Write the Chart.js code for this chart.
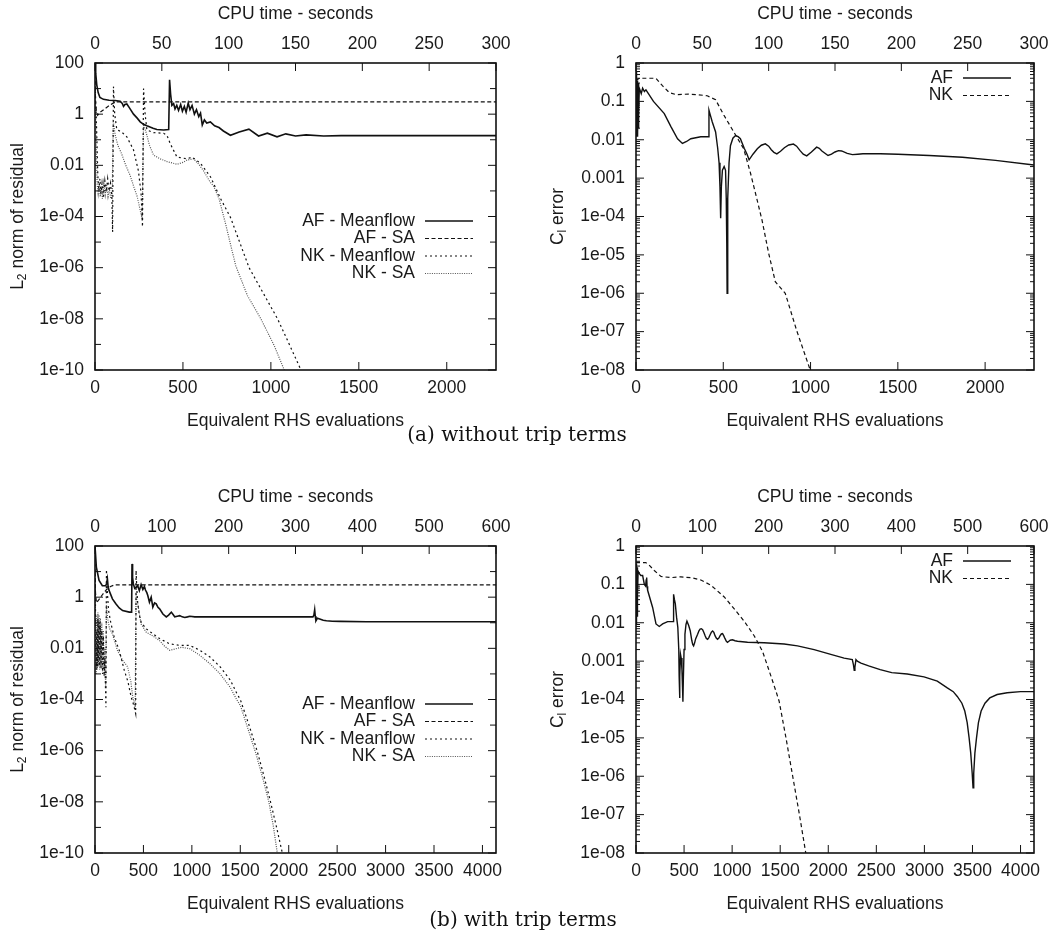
<!DOCTYPE html>
<html>
<head>
<meta charset="utf-8">
<script src="https://cdn.jsdelivr.net/npm/chart.js@4.4.1/dist/chart.umd.min.js"></script>
<style>
  body { margin: 0; background: #fff; width: 1060px; height: 941px; position: relative; overflow: hidden; }
  canvas { position: absolute; }
  .cap { position: absolute; font-family: "DejaVu Serif", "Liberation Serif", serif; font-size: 20px; color: #111;
         white-space: nowrap; transform: translateX(-50%); }
</style>
</head>
<body>
<canvas id="aRes" width="530" height="445" style="left:0;top:0"></canvas>
<canvas id="aCl" width="530" height="445" style="left:530px;top:0"></canvas>
<canvas id="bRes" width="530" height="445" style="left:0;top:483px"></canvas>
<canvas id="bCl" width="530" height="445" style="left:530px;top:483px"></canvas>
<div class="cap" style="left:517px;top:422px">(a) without trip terms</div>
<div class="cap" style="left:523px;top:907px">(b) with trip terms</div>
<script>
// axes
const aRhsMax = 2280, aCpuMax = 300;
const bRhsMax = 4140, bCpuMax = 600;
const aRhsTicks = [0, 500, 1000, 1500, 2000];
const aCpuTicks = [0, 50, 100, 150, 200, 250, 300];
const bRhsTicks = [0, 500, 1000, 1500, 2000, 2500, 3000, 3500, 4000];
const bCpuTicks = [0, 100, 200, 300, 400, 500, 600];
const resTicks = [100, 1, 0.01, 1e-4, 1e-6, 1e-8, 1e-10];
const resOddTicks = [10, 0.1, 1e-3, 1e-5, 1e-7, 1e-9];
const clTicks = [1, 0.1, 0.01, 1e-3, 1e-4, 1e-5, 1e-6, 1e-7, 1e-8];

// (a) without trip terms - residual, [RHS evaluations, L2 norm]
const aResAFMean = [[0,100],[4,40],[10,14],[18,7],[28,4.5],[48,3.8],[80,3.5],[114,3.4],[143,3.2],[155,2.6],[162,2],
  [170,2.4],[181,2.5],[195,1.8],[219,1.0],[240,0.7],[257,0.5],[276,0.4],[295,0.35],[330,0.28],[352,0.25],[390,0.24],
  [419,0.25],[424,22],[430,6],[437,2.2],[447,2.6],[455,1.6],[465,2.2],[475,1.4],[487,2.4],[497,1.3],[508,2.0],
  [518,1.2],[530,2.7],[540,1.5],[552,2.2],[565,1.0],[577,1.5],[590,0.8],[600,1.1],[610,0.38],[622,0.6],[635,0.45],
  [656,0.5],[680,0.35],[705,0.3],[730,0.22],[770,0.15],[820,0.2],[875,0.26],[930,0.14],[980,0.18],[1035,0.13],
  [1085,0.17],[1140,0.14],[1200,0.155],[1300,0.14],[1400,0.145],[1700,0.145],[2000,0.145],[2280,0.145]];
const aResAFSA = [[0,20],[3,3],[8,1.3],[15,0.9],[30,1.2],[60,1.7],[86,2.3],[114,3.0],[2280,3.0]];
const aResNKMean = [[0,30],[4,3],[8,0.5],[12,0.05],[16,0.004],[22,0.001],[28,0.003],[34,0.0008],[40,0.002],
  [48,0.0006],[56,0.0025],[64,0.0009],[72,0.003],[80,0.001],[88,0.002],[96,0.0006],[100,2.5e-5],[105,12],[112,1],
  [124,0.25],[152,0.2],[181,0.13],[219,0.04],[247,0.006],[262,0.0008],[270,4e-5],[276,10],[285,1],[295,0.24],
  [333,0.19],[390,0.18],[409,0.15],[428,0.07],[466,0.021],[523,0.018],[552,0.021],[600,0.012],[657,0.0035],
  [714,5e-4],[771,9e-5],[876,1e-6],[957,1e-7],[1038,1e-8],[1105,1e-9],[1171,1e-10],[1190,5e-11]];
const aResNKSA = [[0,5],[4,0.5],[8,0.03],[12,0.002],[18,0.0008],[24,0.002],[30,0.0006],[36,0.0015],[42,0.0005],
  [50,0.002],[58,0.0007],[66,0.0018],[74,0.0006],[82,0.0012],[90,0.0005],[98,0.0008],[104,0.5],[115,0.15],
  [130,0.06],[150,0.03],[175,0.01],[200,0.004],[220,0.0015],[240,0.0006],[255,0.0002],[268,8e-5],[276,0.4],
  [290,0.2],[310,0.06],[333,0.025],[370,0.018],[410,0.014],[466,0.011],[500,0.013],[523,0.016],[561,0.018],
  [590,0.011],[618,0.006],[650,0.0025],[675,0.0015],[705,5e-4],[740,6e-5],[800,1.2e-6],[867,8e-8],[943,1e-8],
  [1019,9e-10],[1076,1e-10],[1090,5e-11]];

// (a) lift coefficient error
const aClAF = [[0,0.6],[1.5,0.015],[3,0.4],[4.5,0.012],[6,0.3],[7.5,0.015],[9,0.35],[10.5,0.012],[12,0.25],
  [13.5,0.02],[15,0.3],[17,0.05],[19,0.22],[30,0.16],[38,0.22],[48,0.18],[57,0.2],[100,0.1],[162,0.048],[200,0.022],
  [238,0.0106],[266,0.008],[290,0.009],[314,0.0106],[371,0.012],[415,0.012],[418,0.059],[425,0.045],[437,0.029],
  [456,0.016],[468,0.006],[476,0.0025],[481,6e-4],[485,9e-5],[489,6e-4],[495,0.0016],[505,0.002],[513,0.0016],
  [517,3e-4],[520,2e-5],[522,1e-6],[524,2e-5],[527,3e-4],[533,0.0025],[541,0.007],[555,0.011],[570,0.0129],
  [585,0.012],[598,0.0106],[620,0.006],[636,0.0042],[648,0.003],[670,0.0042],[695,0.0058],[718,0.0072],
  [741,0.0078],[760,0.0068],[775,0.0055],[790,0.0047],[807,0.0043],[828,0.005],[850,0.0062],[875,0.0073],
  [902,0.0077],[920,0.0068],[940,0.0052],[958,0.0042],[978,0.0038],[1005,0.0048],[1035,0.0064],[1050,0.006],
  [1065,0.0051],[1100,0.0039],[1120,0.0042],[1140,0.0048],[1160,0.0052],[1178,0.0051],[1210,0.0044],
  [1240,0.0041],[1270,0.0042],[1300,0.0043],[1400,0.0043],[1500,0.0042],[1680,0.0039],[1870,0.0035],
  [2060,0.0029],[2280,0.0022]];
const aClNK = [[0,0.35],[20,0.4],[60,0.4],[114,0.4],[150,0.26],[190,0.17],[230,0.15],[300,0.155],[350,0.15],
  [408,0.14],[456,0.11],[503,0.044],[560,0.016],[617,0.0058],[655,0.0014],[693,2.8e-4],[722,8e-5],[760,1.1e-5],
  [798,2e-6],[855,1e-6],[921,1.05e-7],[998,1e-8],[1005,8e-9]];

// (b) with trip terms - residual
const bResAFMean = [[0,100],[14,15],[42,4.5],[76,2.8],[111,2.8],[120,3.5],[128,5.2],[136,2.5],[146,1.8],
  [180,0.86],[215,0.55],[250,0.38],[285,0.3],[354,0.26],[378,0.26],[382,20],[388,6],[396,3.3],[410,2.2],
  [424,2.45],[441,2.8],[458,1.8],[476,3.1],[494,2.0],[510,2.6],[521,1.9],[535,1.5],[545,1.16],[562,0.64],
  [580,1.0],[597,0.41],[615,0.6],[632,0.55],[650,0.4],[667,0.35],[701,0.22],[736,0.17],[760,0.2],[788,0.26],
  [810,0.2],[823,0.17],[850,0.18],[875,0.19],[900,0.17],[927,0.16],[955,0.17],[979,0.18],[1030,0.17],
  [1083,0.17],[1430,0.17],[1778,0.17],[2250,0.17],[2260,0.2],[2268,0.32],[2274,0.18],[2281,0.12],[2296,0.15],
  [2320,0.14],[2356,0.125],[2390,0.12],[2450,0.115],[2530,0.113],[2800,0.11],[3500,0.11],[4140,0.11]];
const bResAFSA = [[0,10],[5,1.5],[15,0.6],[40,0.8],[80,1.3],[120,2.0],[160,2.6],[200,3.0],[4140,3.0]];
const bResNKMean = [[0,30],[4,1],[8,0.02],[12,0.0015],[18,0.05],[24,0.002],[30,0.15],[36,0.003],[42,0.1],
  [48,0.002],[55,0.08],[62,0.0015],[70,0.05],[78,0.001],[86,0.03],[94,0.0008],[102,0.004],[108,0.0003],
  [113,5e-5],[118,12],[128,1.5],[140,0.3],[163,0.1],[198,0.028],[250,0.0084],[302,0.0014],[340,5e-4],
  [372,1.3e-4],[400,6e-5],[420,2.8e-5],[424,11],[432,2],[441,0.6],[458,0.2],[476,0.106],[528,0.058],
  [597,0.037],[667,0.024],[771,0.015],[875,0.013],[979,0.013],[1083,0.0084],[1187,0.0046],[1292,0.0019],
  [1396,5.8e-4],[1465,1.7e-4],[1500,1e-4],[1590,1e-5],[1673,1e-6],[1745,1e-7],[1812,1e-8],[1875,1e-9],
  [1934,1e-10],[1950,5e-11]];
const bResNKSA = [[0,5],[4,0.3],[8,0.01],[12,0.001],[18,0.2],[24,0.0015],[30,0.25],[36,0.002],[42,0.2],
  [48,0.0015],[55,0.15],[62,0.002],[70,0.1],[78,0.0012],[86,0.05],[94,0.0015],[102,0.01],[110,0.0003],
  [118,0.5],[130,0.15],[150,0.06],[180,0.037],[233,0.008],[285,0.0034],[337,0.0019],[370,5e-4],[389,1.3e-4],
  [415,5e-5],[424,1.5],[432,0.8],[441,0.55],[476,0.09],[528,0.043],[600,0.03],[667,0.02],[720,0.012],
  [771,0.0084],[830,0.0095],[892,0.011],[979,0.0097],[1083,0.0053],[1187,0.0025],[1292,0.001],[1396,3e-4],
  [1465,9.5e-5],[1500,6e-5],[1580,7e-6],[1660,8e-7],[1730,9e-8],[1795,1e-8],[1840,1.2e-9],[1882,1e-10],
  [1895,5e-11]];

// (b) lift coefficient error
const bClAF = [[0,0.3],[1.5,0.01],[3,0.35],[4.5,0.012],[6,0.3],[7.5,0.009],[9,0.3],[10.5,0.015],[12,0.28],
  [14,0.02],[16,0.25],[19,0.05],[22,0.22],[35,0.19],[50,0.17],[69,0.17],[87,0.1],[100,0.09],[106,0.13],
  [111,0.15],[115,0.09],[121,0.07],[173,0.025],[208,0.0093],[242,0.008],[277,0.0093],[329,0.0107],[386,0.0107],
  [391,0.055],[400,0.04],[409,0.031],[422,0.014],[435,0.0076],[445,0.002],[449,4e-4],[453,1.1e-4],[457,4e-4],
  [463,0.0015],[470,0.0012],[478,0.0006],[484,2e-4],[488,8.8e-5],[492,3e-4],[500,0.002],[509,0.005],[520,0.009],
  [530,0.011],[548,0.0085],[564,0.0062],[580,0.0035],[590,0.0027],[599,0.0025],[610,0.003],[620,0.0038],
  [641,0.005],[655,0.0062],[667,0.0068],[680,0.007],[693,0.0066],[707,0.0055],[720,0.0045],[732,0.0039],
  [745,0.0037],[758,0.0041],[770,0.0048],[784,0.0057],[797,0.0061],[810,0.0056],[822,0.0046],[835,0.004],
  [848,0.0037],[862,0.004],[875,0.0046],[888,0.0051],[900,0.0052],[912,0.0046],[925,0.0039],[940,0.0033],
  [952,0.0031],[966,0.0033],[980,0.0035],[1004,0.0036],[1030,0.0034],[1056,0.0033],[1160,0.0031],[1333,0.003],
  [1541,0.0028],[1680,0.0025],[1853,0.002],[2026,0.0015],[2165,0.0012],[2250,0.0011],[2262,8e-4],[2270,5.8e-4],
  [2277,7e-4],[2288,0.0011],[2302,0.001],[2340,8.9e-4],[2420,7.5e-4],[2540,6e-4],[2660,5e-4],[2822,4.6e-4],
  [2996,3.9e-4],[3134,3e-4],[3238,2e-4],[3300,1.6e-4],[3342,1.2e-4],[3390,8e-5],[3420,5e-5],[3445,2.5e-5],
  [3465,1e-5],[3482,4e-6],[3497,1.2e-6],[3506,5e-7],[3513,1.2e-6],[3525,4e-6],[3542,1e-5],[3562,2.5e-5],
  [3590,5e-5],[3630,8e-5],[3680,1.1e-4],[3757,1.35e-4],[3861,1.5e-4],[4000,1.6e-4],[4140,1.6e-4]];
const bClNK = [[0,0.37],[60,0.37],[100,0.37],[130,0.33],[190,0.23],[260,0.16],[364,0.15],[467,0.157],
  [571,0.15],[675,0.13],[779,0.095],[918,0.047],[1022,0.023],[1125,0.011],[1229,0.0046],[1316,0.0018],
  [1385,5.6e-4],[1454,1.7e-4],[1489,9e-5],[1560,1e-5],[1630,1e-6],[1700,1e-7],[1766,1e-8],[1780,6e-9]];

const FONT = '"Liberation Sans", Arial, sans-serif';
const FS = 17.5;
Chart.defaults.font.family = FONT;
Chart.defaults.font.size = FS;
Chart.defaults.color = '#1a1a1a';

function logLabel(v) {
  const e = Math.round(Math.log10(v));
  if (e >= 0) return String(Math.pow(10, e));
  if (e >= -3) return Math.pow(10, e).toFixed(-e);
  return '1e-' + String(-e).padStart(2, '0');
}

// log minor ticks 2..9 in each decade
function logMinor(lo, hi) {
  const out = [];
  for (let e = lo; e < hi; e++) for (let k = 2; k <= 9; k++) out.push(k * Math.pow(10, e));
  return out;
}

// gnuplot style: frame, inward ticks, legend on the right, y title with subscript
const gnuplotFrame = {
  id: 'gnuplotFrame',
  afterDraw(chart, args, o) {
    const { ctx, chartArea: a, scales } = chart;
    ctx.save();
    ctx.strokeStyle = '#111';
    ctx.lineWidth = 1;
    const seg = (x1, y1, x2, y2) => { ctx.beginPath(); ctx.moveTo(x1, y1); ctx.lineTo(x2, y2); ctx.stroke(); };
    scales.x.ticks.forEach(t => { const p = scales.x.getPixelForValue(t.value); seg(p, a.bottom, p, a.bottom - 8); });
    scales.x2.ticks.forEach(t => { const p = scales.x2.getPixelForValue(t.value); seg(p, a.top, p, a.top + 8); });
    const yTick = (v, len) => {
      const p = scales.y.getPixelForValue(v);
      seg(a.left, p, a.left + len, p);
      seg(a.right, p, a.right - len, p);
    };
    scales.y.ticks.forEach(t => yTick(t.value, 8));
    (o.oddTicks || []).forEach(v => yTick(v, 6));
    (o.minorTicks || []).forEach(v => yTick(v, 4));
    ctx.lineWidth = 1.6;
    ctx.strokeRect(a.left, a.top, a.right - a.left, a.bottom - a.top);

    // legend
    ctx.font = FS + 'px ' + FONT;
    ctx.fillStyle = '#1a1a1a';
    ctx.textAlign = 'right';
    ctx.textBaseline = 'middle';
    chart.data.datasets.forEach((ds, i) => {
      const y = a.top + o.legendTop + i * 17.5;
      ctx.fillText(ds.label, a.right - 81, y);
      ctx.strokeStyle = ds.borderColor;
      ctx.lineWidth = ds.borderWidth;
      ctx.setLineDash(ds.borderDash || []);
      seg(a.right - 71, y, a.right - 23, y);
      ctx.setLineDash([]);
    });

    // rotated y title
    ctx.translate(o.titleX, (a.top + a.bottom) / 2);
    ctx.rotate(-Math.PI / 2);
    ctx.textAlign = 'left';
    let total = 0;
    o.title.forEach(p => { ctx.font = (p.sub ? 12 : FS) + 'px ' + FONT; p.w = ctx.measureText(p.t).width; total += p.w; });
    let x = -total / 2;
    o.title.forEach(p => {
      ctx.font = (p.sub ? 12 : FS) + 'px ' + FONT;
      ctx.fillText(p.t, x, p.sub ? 5 : 0);
      x += p.w;
    });
    ctx.restore();
  }
};

function makeChart(id, c) {
  const fixTicks = list => s => { s.ticks = list.map(v => ({ value: v })); };
  const noGrid = { display: false, drawTicks: false };
  return new Chart(document.getElementById(id), {
    type: 'line',
    data: {
      datasets: c.series.map(s => ({
        label: s.label,
        data: s.data.map(p => ({ x: p[0], y: p[1] })),
        xAxisID: 'x', yAxisID: 'y',
        borderColor: s.color || '#111',
        borderWidth: s.width || 1.2,
        borderDash: s.dash || [],
        pointRadius: 0, tension: 0, fill: false
      }))
    },
    options: {
      responsive: false, animation: false, devicePixelRatio: 1,
      layout: { padding: 0 },
      plugins: {
        legend: { display: false }, tooltip: { enabled: false },
        gnuplotFrame: { title: c.title, titleX: c.titleX, legendTop: c.legendTop,
                        oddTicks: c.oddTicks, minorTicks: c.minorTicks }
      },
      scales: {
        x: {
          type: 'linear', position: 'bottom', min: 0, max: c.rhsMax, bounds: 'data',
          afterBuildTicks: fixTicks(c.rhsTicks), afterFit: s => { s.height = 75; },
          grid: noGrid, border: { display: false },
          ticks: { padding: 8, autoSkip: false, maxRotation: 0, callback: v => String(v) },
          title: { display: true, text: 'Equivalent RHS evaluations', padding: { top: 0, bottom: 13 } }
        },
        x2: {
          type: 'linear', position: 'top', min: 0, max: c.cpuMax, bounds: 'data',
          afterBuildTicks: fixTicks(c.cpuTicks), afterFit: s => { s.height = 63; },
          grid: noGrid, border: { display: false },
          ticks: { padding: 8, autoSkip: false, maxRotation: 0, callback: v => String(v) },
          title: { display: true, text: 'CPU time - seconds', padding: { top: 4, bottom: 0 } }
        },
        y: {
          type: 'logarithmic', position: 'left', min: c.yMin, max: c.yMax, bounds: 'data',
          afterBuildTicks: fixTicks(c.yTicks), afterFit: s => { s.width = c.leftW; },
          grid: noGrid, border: { display: false },
          ticks: { padding: 11, autoSkip: false, callback: v => logLabel(v) }
        },
        yR: {
          type: 'linear', position: 'right', afterFit: s => { s.width = c.rightW; },
          grid: { display: false }, border: { display: false }, ticks: { display: false }
        }
      }
    },
    plugins: [gnuplotFrame]
  });
}

const resTitle = [{ t: 'L' }, { t: '2', sub: true }, { t: ' norm of residual' }];
const clTitle = [{ t: 'C' }, { t: 'l', sub: true }, { t: ' error' }];
const resStyles = (d1, d2, d3, d4) => [
  { label: 'AF - Meanflow', data: d1, width: 1.6 },
  { label: 'AF - SA', data: d2, dash: [4, 2.5] },
  { label: 'NK - Meanflow', data: d3, dash: [2, 3] },
  { label: 'NK - SA', data: d4, dash: [1, 1.3], color: '#555' }
];
const clStyles = (d1, d2) => [
  { label: 'AF', data: d1, width: 1.4 },
  { label: 'NK', data: d2, dash: [4, 3] }
];

makeChart('aRes', {
  series: resStyles(aResAFMean, aResAFSA, aResNKMean, aResNKSA),
  rhsMax: aRhsMax, cpuMax: aCpuMax, rhsTicks: aRhsTicks, cpuTicks: aCpuTicks,
  yMin: 1e-10, yMax: 100, yTicks: resTicks, oddTicks: resOddTicks,
  leftW: 95, rightW: 34, title: resTitle, titleX: 18, legendTop: 158
});
makeChart('aCl', {
  series: clStyles(aClAF, aClNK),
  rhsMax: aRhsMax, cpuMax: aCpuMax, rhsTicks: aRhsTicks, cpuTicks: aCpuTicks,
  yMin: 1e-8, yMax: 1, yTicks: clTicks, minorTicks: logMinor(-8, 0),
  leftW: 106, rightW: 26, title: clTitle, titleX: 28, legendTop: 15
});
makeChart('bRes', {
  series: resStyles(bResAFMean, bResAFSA, bResNKMean, bResNKSA),
  rhsMax: bRhsMax, cpuMax: bCpuMax, rhsTicks: bRhsTicks, cpuTicks: bCpuTicks,
  yMin: 1e-10, yMax: 100, yTicks: resTicks, oddTicks: resOddTicks,
  leftW: 95, rightW: 34, title: resTitle, titleX: 18, legendTop: 158
});
makeChart('bCl', {
  series: clStyles(bClAF, bClNK),
  rhsMax: bRhsMax, cpuMax: bCpuMax, rhsTicks: bRhsTicks, cpuTicks: bCpuTicks,
  yMin: 1e-8, yMax: 1, yTicks: clTicks, minorTicks: logMinor(-8, 0),
  leftW: 106, rightW: 26, title: clTitle, titleX: 28, legendTop: 15
});
</script>
</body>
</html>
